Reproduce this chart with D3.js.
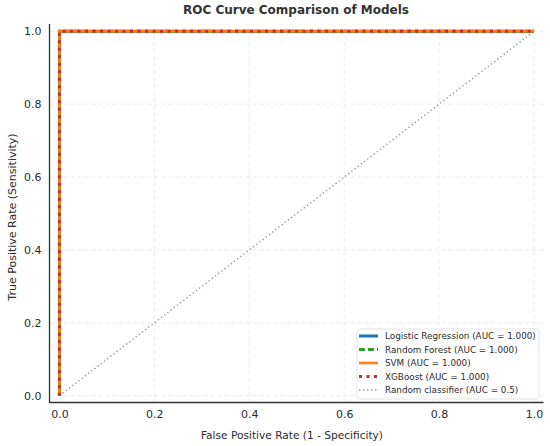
<!DOCTYPE html>
<html><head><meta charset="utf-8">
<script src="https://cdn.jsdelivr.net/npm/d3@7"></script>
<style>body{margin:0;background:#fff}svg{display:block;font-family:"DejaVu Sans",sans-serif}</style>
</head><body><svg id="c" width="550" height="446"></svg>
<script>
const modelNames = ["Logistic Regression","Random Forest","SVM","XGBoost"];
const modelAUC = ["1.000","1.000","1.000","1.000"];
const rocFPR = [0, 0, 1];
const rocTPR = [0, 1, 1];
const randomFPR = [0, 1];
const randomTPR = [0, 1];
const ticks = [0, 0.2, 0.4, 0.6, 0.8, 1.0];

const colors = ["#1f77b4","#2ca02c","#ff7f0e","#d62728"];
const dashes = [null, "6,3", null, "3,4.5"];
const widths = [3, 3, 2.6, 3];

const svg = d3.select("#c");
const x = d3.scaleLinear().domain([-0.021, 1.02]).range([49.5, 543.5]);
const y = d3.scaleLinear().domain([-0.02, 1.02]).range([403, 24]);

// grid
const g = svg.append("g");
ticks.forEach(t => {
  g.append("line").attr("x1", x(t)).attr("x2", x(t)).attr("y1", y(-0.02)).attr("y2", y(1.02))
    .attr("stroke", "#e6e6e6").attr("stroke-width", 0.8).attr("stroke-dasharray", "4,3");
  g.append("line").attr("y1", y(t)).attr("y2", y(t)).attr("x1", x(-0.021)).attr("x2", x(1.02))
    .attr("stroke", "#e6e6e6").attr("stroke-width", 0.8).attr("stroke-dasharray", "4,3");
});

// random
const line = d3.line().x(d => x(d[0])).y(d => y(d[1]));
svg.append("path").attr("d", line(randomFPR.map((v,i)=>[v, randomTPR[i]])))
  .attr("fill","none").attr("stroke","#999").attr("stroke-width",1.3).attr("stroke-dasharray","1.5,2.5");

modelNames.forEach((m,i) => {
  svg.append("path").attr("d", line(rocFPR.map((v,j)=>[v, rocTPR[j]])))
    .attr("fill","none").attr("stroke",colors[i]).attr("stroke-width",widths[i])
    .attr("stroke-dasharray",dashes[i]);
});

// spines
svg.append("line").attr("x1",49.5).attr("x2",49.5).attr("y1",24).attr("y2",403).attr("stroke","#333").attr("stroke-width",1.3);
svg.append("line").attr("x1",49.5).attr("x2",543.5).attr("y1",402.5).attr("y2",402.5).attr("stroke","#333").attr("stroke-width",1.3);

// tick labels
const xa = svg.append("g").attr("transform","translate(0,402.5)")
  .call(d3.axisBottom(x).tickValues(ticks).tickFormat(d3.format(".1f")).tickSize(0).tickPadding(8));
xa.select(".domain").remove();
xa.selectAll("text").attr("font-size",11).attr("fill","#2b2b2b").attr("font-family","DejaVu Sans");
const ya = svg.append("g").attr("transform","translate(49.5,0)")
  .call(d3.axisLeft(y).tickValues(ticks).tickFormat(d3.format(".1f")).tickSize(0).tickPadding(8));
ya.select(".domain").remove();
ya.selectAll("text").attr("font-size",11).attr("fill","#2b2b2b").attr("font-family","DejaVu Sans");

// labels
svg.append("text").attr("x",296).attr("y",13.5).attr("text-anchor","middle").attr("font-size",12)
  .attr("font-weight","bold").attr("fill","#333").text("ROC Curve Comparison of Models");
svg.append("text").attr("x",292).attr("y",438.5).attr("text-anchor","middle").attr("font-size",10.6)
  .attr("fill","#2b2b2b").text("False Positive Rate (1 - Specificity)");
svg.append("text").attr("transform","translate(16,217) rotate(-90)").attr("text-anchor","middle").attr("font-size",11)
  .attr("fill","#2b2b2b").text("True Positive Rate (Sensitivity)");

// legend
const lg = svg.append("g");
lg.append("rect").attr("x",357).attr("y",329).attr("width",182).attr("height",70).attr("rx",2.5)
  .attr("fill","#fff").attr("fill-opacity",0.85).attr("stroke","#ddd").attr("stroke-width",0.8);
const items = modelNames.map((m,i)=>({label:`${m} (AUC = ${modelAUC[i]})`, color:colors[i], dash:dashes[i], w:widths[i]}));
items.push({label:"Random classifier (AUC = 0.5)", color:"#999", dash:"1.5,2.5", w:1.3});
items.forEach((it,i) => {
  const yy = 336 + i*13.5;
  lg.append("line").attr("x1",359).attr("x2",378).attr("y1",yy).attr("y2",yy)
    .attr("stroke",it.color).attr("stroke-width",it.w).attr("stroke-dasharray",it.dash);
  lg.append("text").attr("x",385).attr("y",yy).attr("dy","0.35em").attr("font-size",8.8)
    .attr("fill","#2b2b2b").text(it.label);
});
</script></body></html>
